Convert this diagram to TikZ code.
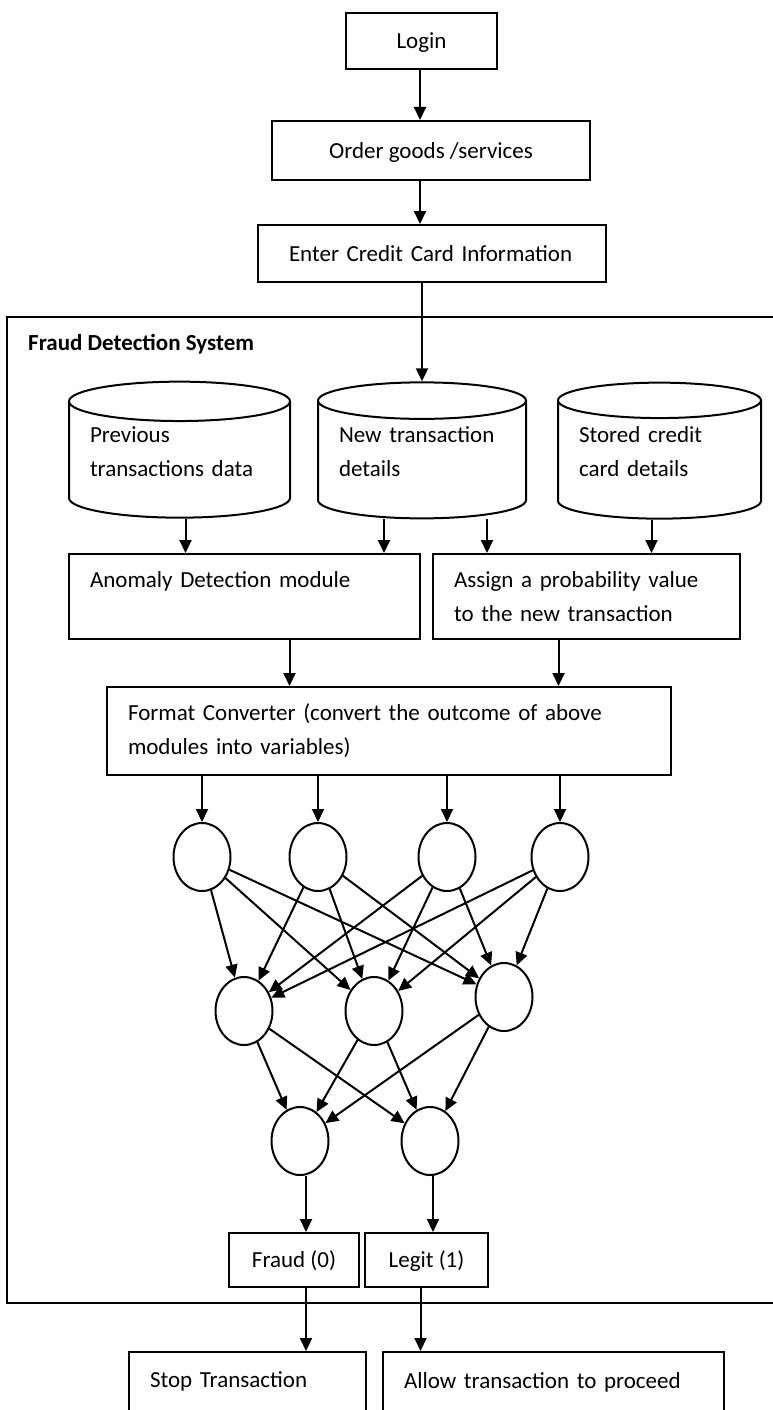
\documentclass[tikz,border=0pt]{standalone}
\usepackage{fontspec}
\setmainfont{Carlito}
\usetikzlibrary{arrows.meta,positioning,shapes.geometric,calc}
\tikzset{
  box/.style={draw,line width=2pt,inner sep=0pt,align=left},
  tbox/.style={box,align=center,text height=20pt,text depth=5pt},
  db/.style={draw,line width=2pt,cylinder,shape border rotate=90,aspect=0.22,
    inner sep=0pt,minimum height=136pt,align=left,text height=2pt,text depth=38pt},
  neuron/.style={draw,line width=2pt,ellipse,minimum width=57pt,minimum height=68pt,inner sep=0pt},
  arr/.style={line width=2pt,-{Triangle[length=13pt,width=12pt]}}
}
\begin{document}
\begin{tikzpicture}[x=1pt,y=-1pt,font=\fontsize{23}{34}\selectfont]
\useasboundingbox (0,0) rectangle (772,1410);

% ordering steps
\node[tbox,minimum width=151pt,minimum height=56pt] (login) at (421.5,41) {Login};
\node[tbox,minimum width=318pt,minimum height=59pt] (order) at (431,150.5) {Order goods /services};
\node[tbox,align=left,text width=286pt,minimum width=348pt,minimum height=57pt] (enter) at (432,253.5) {Enter Credit Card Information};

% fraud detection system frame
\draw[line width=2pt] (7,317) rectangle (790,1303);
\node[inner sep=0pt,anchor=west,font=\fontsize{23}{34}\selectfont\bfseries] (fdstitle) at (28,344) {Fraud Detection System};

% data stores
\node[db,text width=179pt,minimum width=221pt] (prev) at (179.5,460) {Previous\\transactions data};
\node[db,text width=166pt,minimum width=208pt] (newtx) at (422,460) {New transaction\\details};
\node[db,text width=161pt,minimum width=203pt] (stored) at (659.5,460) {Stored credit\\card details};

% modules
\node[box,text width=309pt,minimum width=351pt,minimum height=85pt] (anom) at (244.5,596.5) {Anomaly Detection module\\\mbox{}};
\node[box,text width=265pt,minimum width=307pt,minimum height=85pt] (assign) at (586.5,596.5) {Assign a probability value\\to the new transaction};
\node[box,text width=522pt,minimum width=564pt,minimum height=88pt] (fc) at (389,731) {Format Converter (convert the outcome of above\\modules into variables)};

% network
\node[neuron] (i1) at (202,857) {};
\node[neuron] (i2) at (318,857) {};
\node[neuron] (i3) at (447,857) {};
\node[neuron] (i4) at (560,857) {};
\node[neuron] (h1) at (244,1011) {};
\node[neuron] (h2) at (374,1011) {};
\node[neuron] (h3) at (504,997) {};
\node[neuron] (o1) at (300,1141) {};
\node[neuron] (o2) at (430,1141) {};

% outcomes
\node[tbox,minimum width=130pt,minimum height=54pt] (fraud) at (294,1260) {Fraud (0)};
\node[tbox,minimum width=123pt,minimum height=54pt] (legit) at (426.5,1260) {Legit (1)};
\node[box,text width=195pt,minimum width=237pt,minimum height=90pt] (stop) at (247.5,1397) {Stop Transaction\\\mbox{}};
\node[box,text width=299pt,minimum width=341pt,minimum height=90pt] (allow) at (553.5,1397) {Allow transaction to proceed\\\mbox{}};

% connectors
\draw[arr] (login.south -| 420,0) -- (order.north -| 420,0);
\draw[arr] (order.south -| 420,0) -- (enter.north -| 420,0);
\draw[arr] (enter.south -| newtx.north) -- (newtx.north);
\draw[arr] ([xshift=6pt]prev.south) -- ([xshift=6pt]prev.south |- anom.north);
\draw[arr] ([xshift=-38pt]newtx.south) -- ([xshift=-38pt]newtx.south |- anom.north);
\draw[arr] ([xshift=65pt]newtx.south) -- ([xshift=65pt]newtx.south |- assign.north);
\draw[arr] ([xshift=-8pt]stored.south) -- ([xshift=-8pt]stored.south |- assign.north);
\draw[arr] ([xshift=45pt]anom.south) -- ([xshift=45pt]anom.south |- fc.north);
\draw[arr] ([xshift=-28pt]assign.south) -- ([xshift=-28pt]assign.south |- fc.north);
\foreach \n in {i1,i2,i3,i4}
  \draw[arr] (fc.south -| \n) -- (\n);
\foreach \a in {i1,i2,i3,i4}
  \foreach \b in {h1,h2,h3}
    \draw[arr] (\a) -- (\b);
\foreach \a in {h1,h2,h3}
  \foreach \b in {o1,o2}
    \draw[arr] (\a) -- (\b);
\draw[arr] ([xshift=6pt]o1.south) -- ([xshift=6pt]o1.south |- fraud.north);
\draw[arr] ([xshift=3pt]o2.south) -- ([xshift=3pt]o2.south |- legit.north);
\draw[arr] ([xshift=12pt]fraud.south) -- ([xshift=12pt]fraud.south |- stop.north);
\draw[arr] ([xshift=-6pt]legit.south) -- ([xshift=-6pt]legit.south |- allow.north);
\end{tikzpicture}
\end{document}
